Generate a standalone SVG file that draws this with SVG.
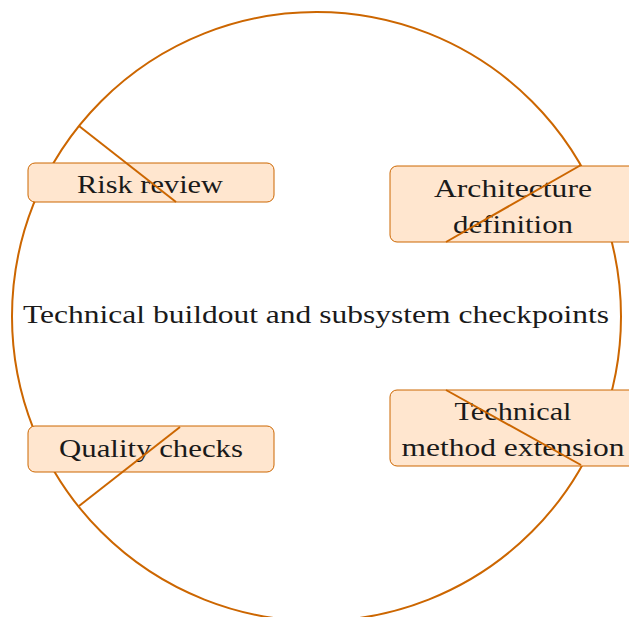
<svg xmlns="http://www.w3.org/2000/svg" width="629" height="617" viewBox="0 0 629 617">
<style>
.ring{fill:none;stroke:#cc6600;stroke-width:2}
.box{fill:#ffe6cf;stroke:#cc6600;stroke-width:1}
.edge{stroke:#cc6600;stroke-width:2;fill:none}
text{font-family:"Liberation Serif","DejaVu Serif",serif;font-size:26px;fill:#1a1a1a;text-anchor:middle}
</style>
<rect width="629" height="617" fill="#ffffff"/>
<g id="hub">
<circle class="ring" cx="316.5" cy="316.5" r="304.5"/>
<text x="316" y="323" textLength="586" lengthAdjust="spacingAndGlyphs">Technical buildout and subsystem checkpoints</text>
</g>
<g id="node-risk">
<rect class="box" x="28" y="163" width="246" height="39" rx="7"/>
<text x="150" y="193" textLength="146" lengthAdjust="spacingAndGlyphs">Risk review</text>
</g>
<g id="node-architecture">
<rect class="box" x="390" y="166" width="246" height="76" rx="7"/>
<text x="513" y="197" textLength="158" lengthAdjust="spacingAndGlyphs">Architecture</text>
<text x="513" y="233" textLength="120" lengthAdjust="spacingAndGlyphs">definition</text>
</g>
<g id="node-method">
<rect class="box" x="390" y="390" width="246" height="76" rx="7"/>
<text x="513" y="420" textLength="117" lengthAdjust="spacingAndGlyphs">Technical</text>
<text x="513" y="456" textLength="223" lengthAdjust="spacingAndGlyphs">method extension</text>
</g>
<g id="node-quality">
<rect class="box" x="28" y="426" width="246" height="46" rx="7"/>
<text x="151" y="457" textLength="184" lengthAdjust="spacingAndGlyphs">Quality checks</text>
</g>
<g id="connectors">
<line class="edge" x1="79" y1="126" x2="176" y2="202"/>
<line class="edge" x1="581" y1="165" x2="446" y2="242"/>
<line class="edge" x1="446" y1="390" x2="581" y2="465"/>
<line class="edge" x1="180" y1="427" x2="79" y2="506"/>
</g>
</svg>
